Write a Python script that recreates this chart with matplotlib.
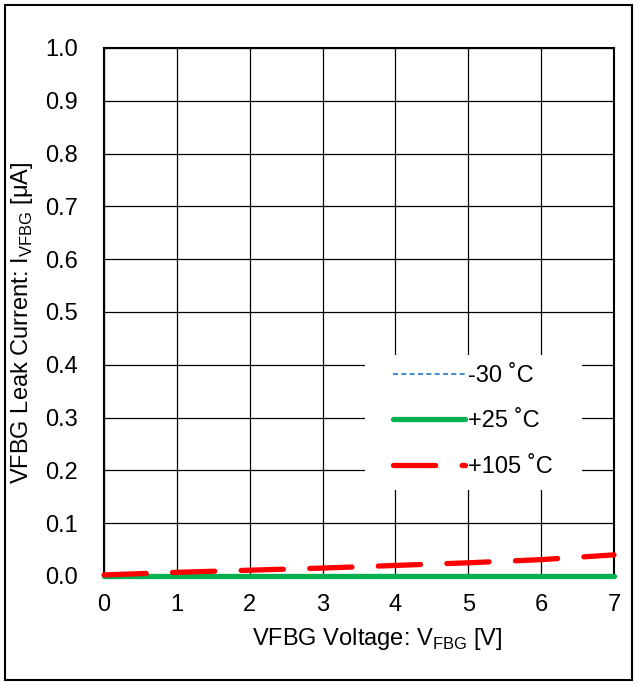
import matplotlib
matplotlib.use('Agg')
from matplotlib import pyplot as plt
from matplotlib.patches import Rectangle
import numpy as np

plt.rcParams['font.family'] = ['Liberation Sans', 'DejaVu Sans']
plt.rcParams['mathtext.fontset'] = 'custom'
plt.rcParams['mathtext.rm'] = 'Liberation Sans'

voltage = [0, 1, 2, 3, 4, 5, 6, 7]
leak_m30 = [0, 0, 0, 0, 0, 0, 0, 0]
leak_25 = [0, 0, 0, 0, 0, 0, 0, 0]
leak_105 = [0.002, 0.007, 0.011, 0.015, 0.020, 0.025, 0.031, 0.040]
series_labels = ['-30 \u02daC', '+25 \u02daC', '+105 \u02daC']

fig = plt.figure(figsize=(6.38, 6.85), dpi=100)
ax = fig.add_axes([104/638, 1-576/685, 510/638, 528/685])

# outer frame
fig.patches.append(Rectangle((5/638, 5/685), 627/638, 675/685, transform=fig.transFigure,
                             fill=False, edgecolor='black', lw=1.5))

ax.plot(voltage, leak_m30, color='#1f77c8', lw=1.2, ls=(0, (3, 2)), label=series_labels[0],
        zorder=7, clip_on=False)
ax.plot(voltage, leak_25, color='#00b050', lw=3.8, solid_capstyle='round', label=series_labels[1],
        zorder=7, clip_on=False)
ax.plot(voltage, leak_105, color='#ff0000', lw=3.8, ls=(0, (8, 5)), dash_capstyle='round',
        label=series_labels[2], zorder=7, clip_on=False)

ax.set_xlim(0, 7)
ax.set_ylim(0, 1.0)
ax.set_xticks(np.arange(0, 8, 1))
ax.set_yticks(np.arange(0, 1.01, 0.1))
ax.set_yticklabels(['%.1f' % v for v in np.arange(0, 1.01, 0.1)])
ax.grid(True, color='black', lw=0.9)
ax.tick_params(length=0, labelsize=17)
ax.tick_params(axis='y', pad=19)
ax.tick_params(axis='x', pad=13)
for s in ax.spines.values():
    s.set_linewidth(1.5)
    s.set_zorder(6)

ax.set_xlabel('VFBG Voltage: V$_{\\mathregular{FBG}}$ [V]', fontsize=17, labelpad=7)
ax.set_ylabel('VFBG Leak Current: I$_{\\mathregular{VFBG}}$ [\u03bcA]', fontsize=17, labelpad=7)
ax.xaxis.label.set_x(0.535)
ax.yaxis.label.set_y(0.48)

# white box behind legend
ax.add_patch(Rectangle((0.512, 0.163), 0.425, 0.256, transform=ax.transAxes,
                       facecolor='white', edgecolor='none', zorder=6.5))
leg = ax.legend(loc='upper left', bbox_to_anchor=(0.567, 0.40), borderaxespad=0, frameon=False,
                fontsize=17, handlelength=3.05, handletextpad=0.12, labelspacing=1.0, borderpad=0)
leg.set_zorder(8)

fig.savefig('out.png', dpi=100)
